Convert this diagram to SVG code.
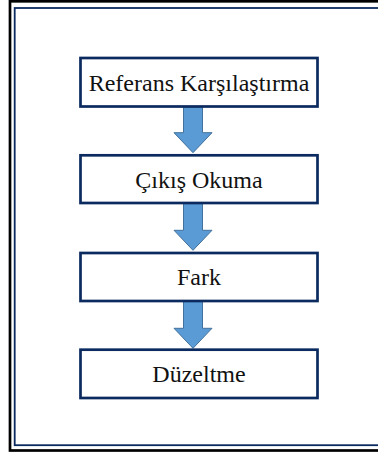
<svg xmlns="http://www.w3.org/2000/svg" width="378" height="454" viewBox="0 0 378 454">
  <style>
    .box { fill: #ffffff; stroke: #0b2a5f; stroke-width: 2.7; }
    .lbl { font-family: "Liberation Serif", "Times New Roman", serif; font-size: 24px; fill: #111111; text-anchor: middle; }
    .arrow { fill: #5b9bd5; stroke: #41719c; stroke-width: 1; }
  </style>
  <rect width="378" height="454" fill="#ffffff"/>
  <g id="frame">
    <rect x="10" y="1.3" width="380" height="449.2" fill="none" stroke="#000000" stroke-width="2.7"/>
    <rect x="14.7" y="8" width="380" height="437.2" fill="none" stroke="#0b2a5f" stroke-width="1.8"/>
  </g>
  <g id="connectors">
    <path class="arrow" d="M183.5,106.5 H202.5 V132.7 H212 L193,152.7 L174,132.7 H183.5 Z"/>
    <path class="arrow" d="M183.5,203 H202.5 V230.3 H212 L193,250.3 L174,230.3 H183.5 Z"/>
    <path class="arrow" d="M183.5,301 H202.5 V328.3 H212 L193,348.3 L174,328.3 H183.5 Z"/>
  </g>
  <g id="node-referans">
    <rect class="box" x="80.5" y="58" width="237" height="48.5"/>
    <text class="lbl" x="199" y="90.7">Referans Karşılaştırma</text>
  </g>
  <g id="node-cikis">
    <rect class="box" x="80.5" y="155.3" width="237" height="47.7"/>
    <text class="lbl" x="199" y="187.7">Çıkış Okuma</text>
  </g>
  <g id="node-fark">
    <rect class="box" x="80.5" y="253" width="237" height="48"/>
    <text class="lbl" x="199" y="285">Fark</text>
  </g>
  <g id="node-duzeltme">
    <rect class="box" x="80.5" y="349.7" width="237" height="48.3"/>
    <text class="lbl" x="199" y="382.3">Düzeltme</text>
  </g>
</svg>
